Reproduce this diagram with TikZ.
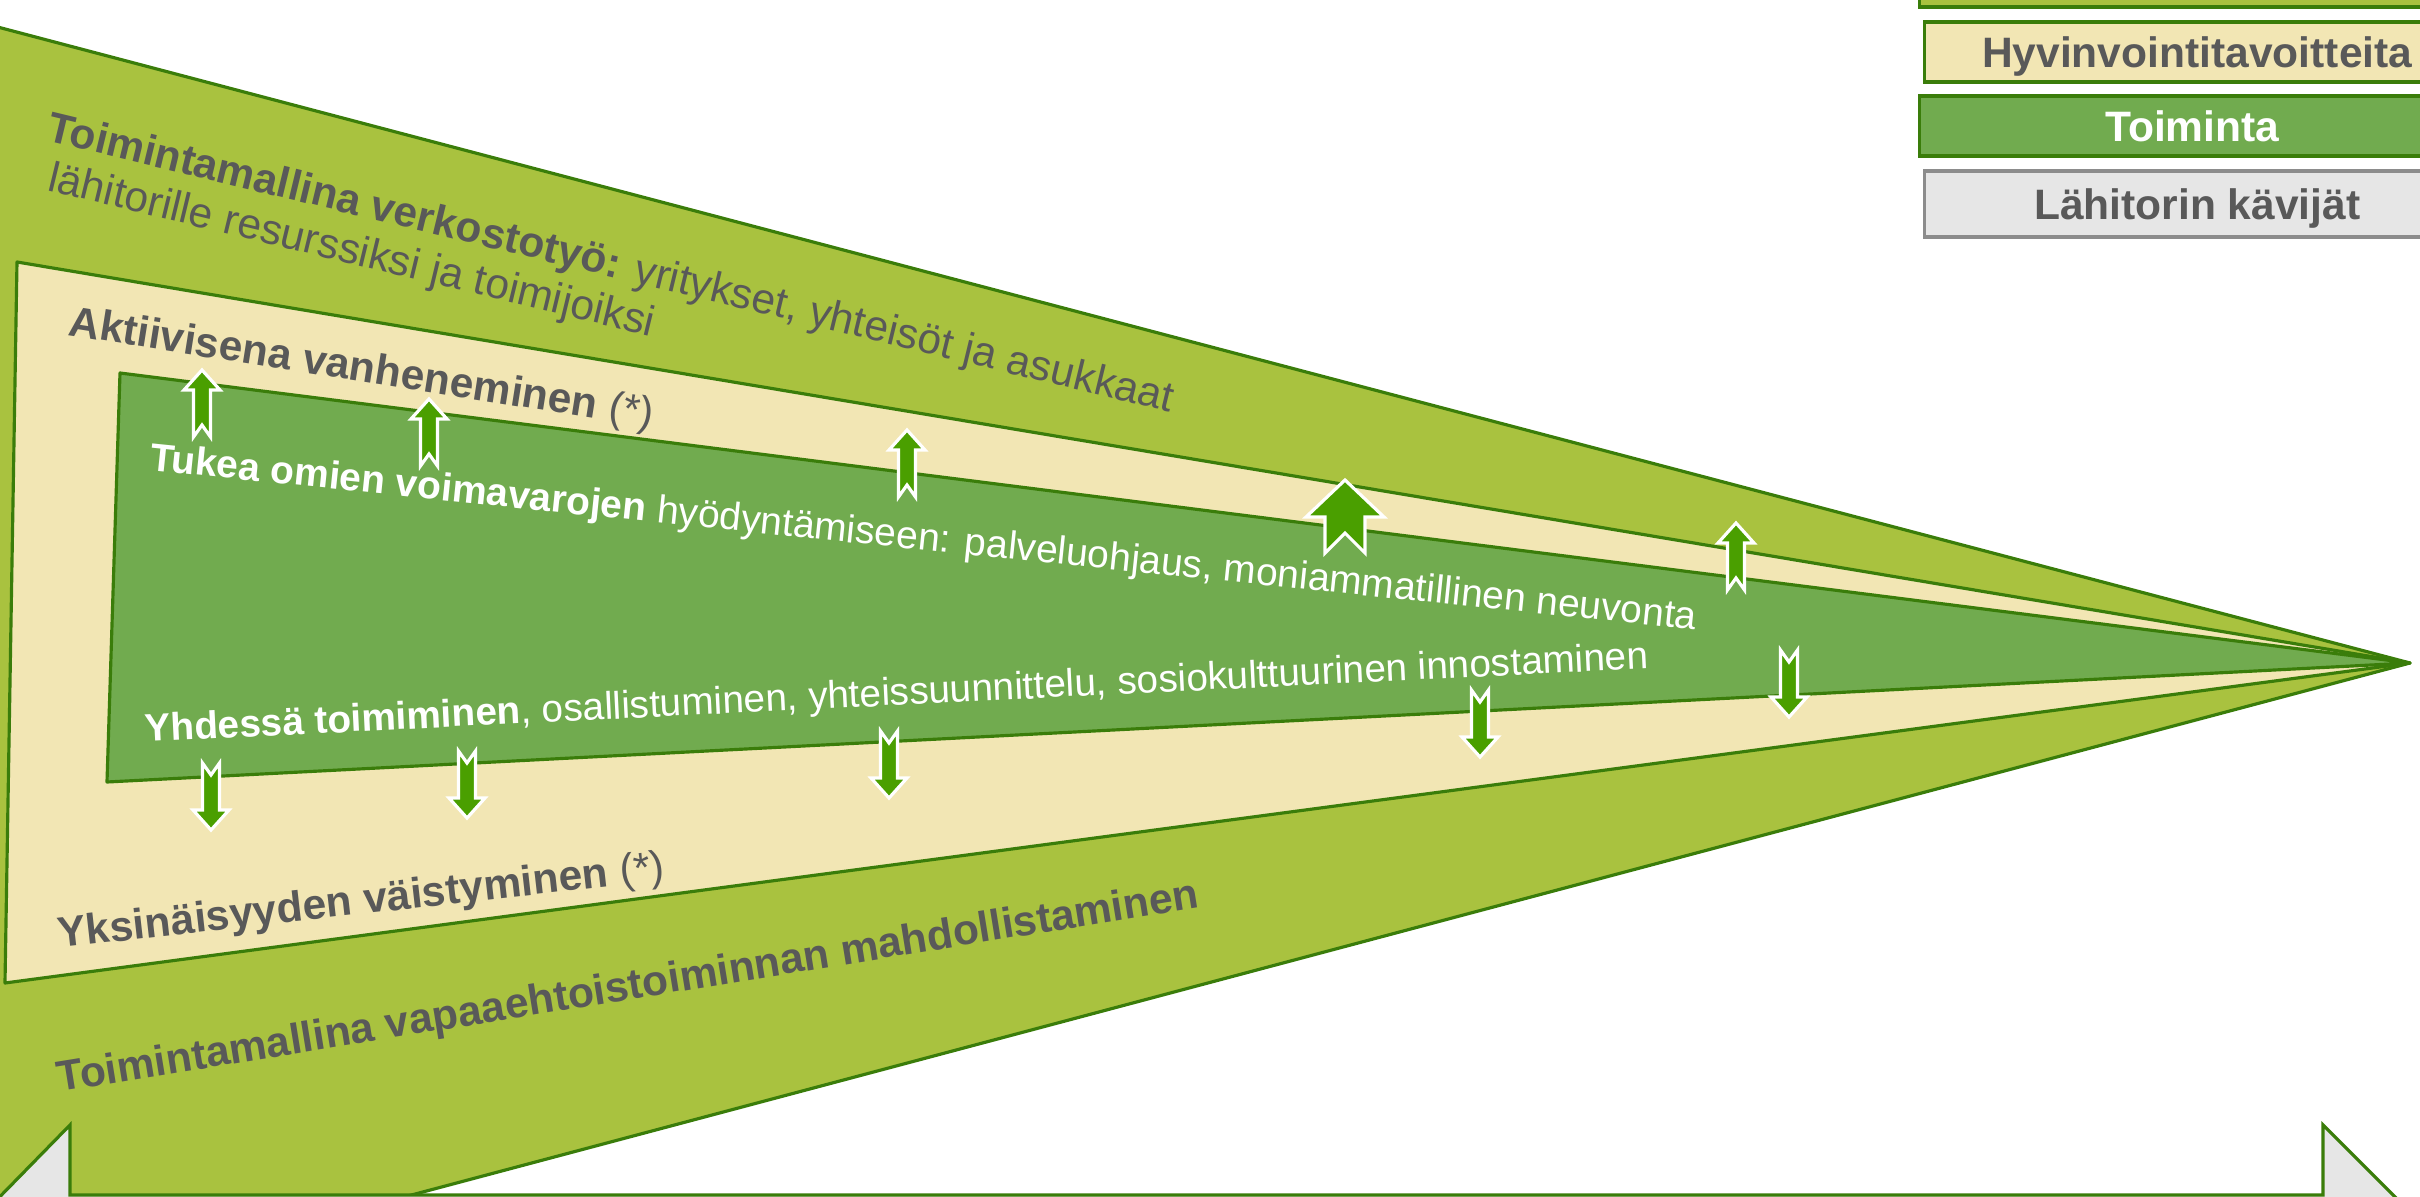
\documentclass[tikz,border=0pt]{standalone}
\usepackage{fontspec}
\setmainfont{Liberation Sans}

\definecolor{outergreen}{HTML}{A9C23F}
\definecolor{goaltan}{HTML}{F2E6B4}
\definecolor{actgreen}{HTML}{71AB4F}
\definecolor{edgegreen}{HTML}{3A7D0A}
\definecolor{flaggreen}{HTML}{4A9F00}
\definecolor{textgray}{HTML}{595959}
\definecolor{visitorgray}{HTML}{E6E6E6}
\definecolor{boxgray}{HTML}{8C8C8C}

\begin{document}
\begin{tikzpicture}[x=0.01cm, y=-0.01cm,
        band/.style={draw=edgegreen, line width=0.9pt, line join=round},
        lbl/.style={anchor=base west, inner sep=0pt, text=textgray, font=\fontsize{12.1}{14}\selectfont},
        actlbl/.style={anchor=base west, inner sep=0pt, text=white, font=\fontsize{11}{13}\selectfont},
        legendbox/.style={anchor=west, minimum width=5.45cm, minimum height=0.6cm, inner sep=0pt,
            text height=0.31cm, text depth=0pt, line width=0.9pt, font=\bfseries\fontsize{12.1}{14}\selectfont},
        flag/.style={fill=flaggreen, draw=white, line width=0.9pt, line join=miter},
        pics/upflag/.style={code={
            \draw[flag] (0,0) -- (18,20) -- (8.5,20) -- (8.5,67) -- (0,55) -- (-8.5,67) -- (-8.5,20) -- (-18,20) -- cycle;
        }}]

        \useasboundingbox (0,0) rectangle (2420,1197);
        \clip (0,0) rectangle (2420,1197);

        % outer band
        \draw[band, fill=outergreen] (-10,25) -- (2410,663) -- (404,1197) -- (-10,1197) -- cycle;

        % goals band
        \draw[band, fill=goaltan] (17,262) -- (2410,663) -- (5,983) -- cycle;

        % action band
        \draw[band, fill=actgreen] (120,373) -- (2410,663) -- (107,782) -- cycle;

        % visitors tray
        \draw[band, fill=visitorgray, line join=miter] (-20,1217) -- (70,1125) -- (70,1195) -- (2323,1195)
            -- (2323,1125) -- (2415,1217) -- cycle;

        % up arrows
        \pic at (202,370) {upflag};
        \pic at (429,399) {upflag};
        \pic at (907,430) {upflag};
        \pic at (1736,523) {upflag};
        \draw[flag] (1345,480) -- (1384,517) -- (1365,517) -- (1365,553) -- (1345,533)
            -- (1325,553) -- (1325,517) -- (1306,517) -- cycle;

        % down arrows
        \pic[rotate=180] at (211,830) {upflag};
        \pic[rotate=180] at (467,818) {upflag};
        \pic[rotate=180] at (889,798) {upflag};
        \pic[rotate=180] at (1480,757) {upflag};
        \pic[rotate=180] at (1789,717) {upflag};

        % band texts
        \node[lbl, rotate=-13.6] (verkosto) at (45,140) {\textbf{Toimintamallina verkostotyö:} yritykset, yhteisöt ja asukkaat};
        \node[lbl, rotate=-13.6] (resurssit) at (46,190) {lähitorille resurssiksi ja toimijoiksi};
        \node[lbl, rotate=-9.0] (aktiivinen) at (67,335) {\textbf{Aktiivisena vanheneminen} (*)};
        \node[actlbl, rotate=-5.9, font=\fontsize{11.1}{13}\selectfont] (tukea) at (149,470) {\textbf{Tukea omien voimavarojen} hyödyntämiseen: palveluohjaus, moniammatillinen neuvonta};
        \node[actlbl, rotate=2.8] (yhdessa) at (145,742) {\textbf{Yhdessä toimiminen}, osallistuminen, yhteissuunnittelu, sosiokulttuurinen innostaminen};
        \node[lbl, rotate=6.4] (yksinaisyys) at (59,948) {\textbf{Yksinäisyyden väistyminen} (*)};
        \node[lbl, rotate=9.2] (vapaaehtoinen) at (59,1092) {\textbf{Toimintamallina vapaaehtoistoiminnan mahdollistaminen}};

        % legend
        \node[legendbox, draw=edgegreen, fill=outergreen] (toimintamalli) at (1918,-23) {};
        \node[legendbox, draw=edgegreen, fill=goaltan, text=textgray] (tavoitteet) at (1923,52) {Hyvinvointitavoitteita};
        \node[legendbox, draw=edgegreen, fill=actgreen, text=white] (toiminta) at (1918,126) {Toiminta};
        \node[legendbox, draw=boxgray, fill=visitorgray, text=textgray, minimum height=0.66cm] (kavijat) at (1923,204) {Lähitorin kävijät};
\end{tikzpicture}
\end{document}
